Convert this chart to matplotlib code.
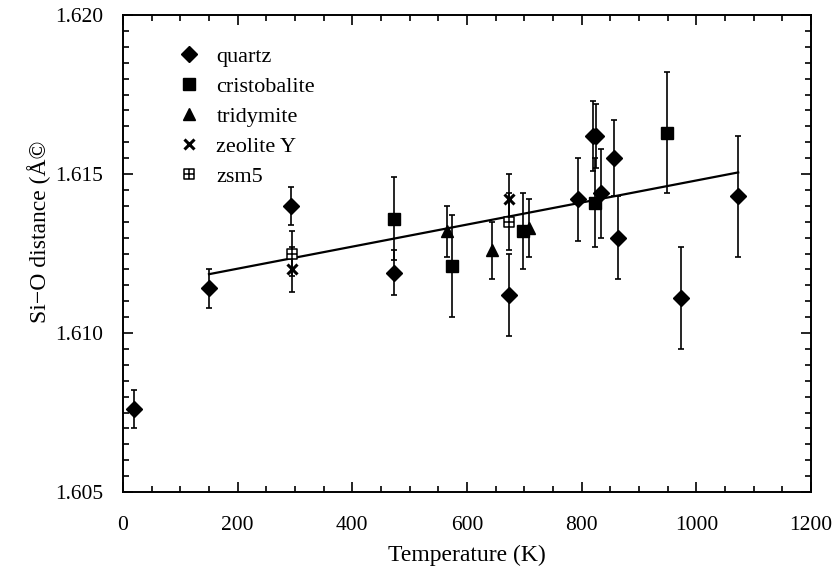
import numpy as np
import matplotlib
matplotlib.use("Agg")
import matplotlib.pyplot as plt
from matplotlib.path import Path
from matplotlib.lines import Line2D
from matplotlib.ticker import MultipleLocator, FormatStrFormatter

# Si-O bond length vs temperature for several silica polymorphs
quartz_T = [20, 150, 293, 473, 673, 793, 820, 825, 833, 857, 863, 973, 1073]
quartz_d = [1.6076, 1.6114, 1.6140, 1.6119, 1.6112, 1.6142, 1.6162, 1.6162,
            1.6144, 1.6155, 1.6130, 1.6111, 1.6143]
quartz_err = [0.0006, 0.0006, 0.0006, 0.0007, 0.0013, 0.0013, 0.0011, 0.0010,
              0.0014, 0.0012, 0.0013, 0.0016, 0.0019]

cristobalite_T = [473, 573, 698, 823, 948]
cristobalite_d = [1.6136, 1.6121, 1.6132, 1.6141, 1.6163]
cristobalite_err = [0.0013, 0.0016, 0.0012, 0.0014, 0.0019]

tridymite_T = [565, 643, 708]
tridymite_d = [1.6132, 1.6126, 1.6133]
tridymite_err = [0.0008, 0.0009, 0.0009]

zeolite_T = [295, 673]
zeolite_d = [1.6120, 1.6142]
zeolite_err = [0.0007, 0.0008]

zsm5_T = [295, 673]
zsm5_d = [1.6125, 1.6135]
zsm5_err = [0.0007, 0.0009]

# linear fit d = intercept + slope * T
fit_T = [150, 1073]
fit_slope = 3.467e-6
fit_intercept = 1.61133

plt.rcParams["font.family"] = ["Liberation Serif", "DejaVu Serif"]

# open square with a cross inside
boxcross = Path(
    [(-1, -1), (1, -1), (1, 1), (-1, 1), (-1, -1), (0, -1), (0, 1), (-1, 0), (1, 0)],
    [Path.MOVETO, Path.LINETO, Path.LINETO, Path.LINETO, Path.CLOSEPOLY,
     Path.MOVETO, Path.LINETO, Path.MOVETO, Path.LINETO],
)

series = [
    ("quartz", quartz_T, quartz_d, quartz_err, dict(marker="D", markersize=8)),
    ("cristobalite", cristobalite_T, cristobalite_d, cristobalite_err, dict(marker="s", markersize=8.5)),
    ("tridymite", tridymite_T, tridymite_d, tridymite_err, dict(marker="^", markersize=8.5)),
    ("zeolite Y", zeolite_T, zeolite_d, zeolite_err,
     dict(marker="x", markersize=7, markeredgewidth=2.2)),
    ("zsm5", zsm5_T, zsm5_d, zsm5_err,
     dict(marker=boxcross, markersize=7, markerfacecolor="white", markeredgewidth=1.1)),
]

fig = plt.figure(figsize=(8.36, 5.69), dpi=100)
ax = fig.add_axes([0.1471, 0.1353, 0.8230, 0.8383])

fit_x = np.array(fit_T, dtype=float)
ax.plot(fit_x, fit_intercept + fit_slope * fit_x, color="black", lw=1.6, zorder=2)

handles = []
for name, T, d, err, style in series:
    ax.errorbar(T, d, yerr=err, fmt="none", ecolor="black", elinewidth=1.2,
                capsize=2.2, capthick=1.2, zorder=3)
    ax.plot(T, d, linestyle="none", color="black", zorder=4, **style)
    handles.append(Line2D([], [], linestyle="none", color="black", label=name, **style))

ax.set_xlim(0, 1200)
ax.set_ylim(1.605, 1.620)
ax.xaxis.set_major_locator(MultipleLocator(200))
ax.xaxis.set_minor_locator(MultipleLocator(50))
ax.yaxis.set_major_locator(MultipleLocator(0.005))
ax.yaxis.set_minor_locator(MultipleLocator(0.0005))
ax.yaxis.set_major_formatter(FormatStrFormatter("%.3f"))

ax.tick_params(which="both", direction="in", top=True, right=True, width=1.2,
               labelsize=15.5)
ax.tick_params(axis="x", which="major", pad=17)
ax.tick_params(axis="y", which="major", pad=14)
ax.tick_params(which="major", length=7)
ax.tick_params(which="minor", length=4)
for sp in ax.spines.values():
    sp.set_linewidth(1.4)

ax.set_xlabel("Temperature (K)", fontsize=17, labelpad=7)
ax.set_ylabel("Si\u2212O distance (Å©", fontsize=17)
ax.yaxis.set_label_coords(-0.104, 0.545)

ax.legend(handles=handles, loc="upper left", bbox_to_anchor=(0.064, 0.957),
          frameon=False, fontsize=16, handlelength=1.0, handletextpad=0.72,
          labelspacing=0.42, borderpad=0)

fig.savefig("out.png", dpi=100)
